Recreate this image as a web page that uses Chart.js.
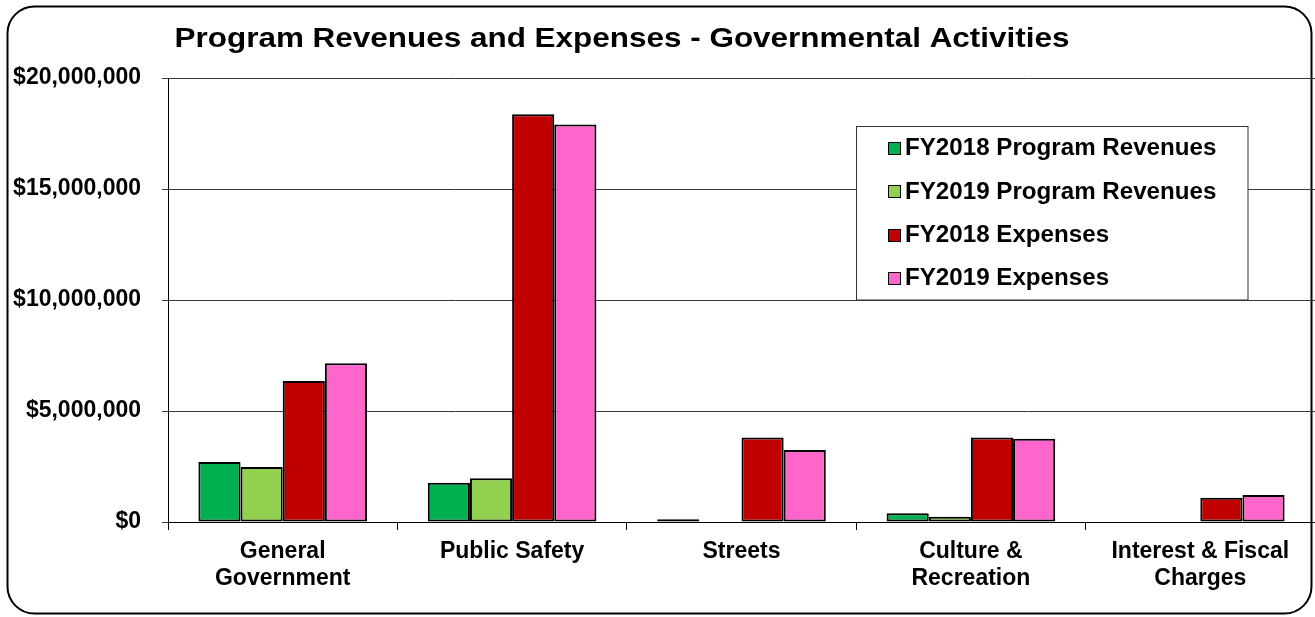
<!DOCTYPE html>
<html>
<head>
<meta charset="utf-8">
<script src="https://cdn.jsdelivr.net/npm/chart.js@4"></script>
<style>
  body { margin: 0; background: #fff; overflow: hidden; }
  #wrap { width: 1315px; height: 617px; }
</style>
</head>
<body>
<div id="wrap"><canvas id="chart" width="1315" height="617"></canvas></div>
<script>
// values, in dollars
var categories = [["General", "Government"], "Public Safety", "Streets", ["Culture &", "Recreation"], ["Interest & Fiscal", "Charges"]];
var fy2018Revenues = [2700000, 1770000, 120000, 390000, 0];
var fy2019Revenues = [2480000, 1970000, 0, 240000, 0];
var fy2018Expenses = [6350000, 18370000, 3810000, 3810000, 1090000];
var fy2019Expenses = [7150000, 17900000, 3240000, 3750000, 1220000];
var yTicks = [0, 5000000, 10000000, 15000000, 20000000];

var chartTitle = "Program Revenues and Expenses - Governmental Activities";
var fontFamily = "'Liberation Sans', Arial, sans-serif";

// text in the original is a little wider than Arial, so stretch it to fit
function wideText(ctx, text, x, y, sx) {
  ctx.save();
  ctx.translate(x, y);
  ctx.scale(sx, 1);
  ctx.fillText(text, 0, 0);
  ctx.restore();
}

// rounded frame + title
var framePlugin = {
  id: "frame",
  beforeDraw: function(chart) {
    var ctx = chart.ctx;
    ctx.save();
    ctx.fillStyle = "#fff";
    ctx.fillRect(0, 0, chart.width, chart.height);
    ctx.beginPath();
    ctx.roundRect(7.5, 6.5, 1304, 607, 27);
    ctx.lineWidth = 2;
    ctx.strokeStyle = "#000";
    ctx.stroke();
    ctx.restore();
  },
  afterDraw: function(chart) {
    var ctx = chart.ctx;
    ctx.save();
    ctx.fillStyle = "#000";
    ctx.font = "bold 27px " + fontFamily;
    ctx.textAlign = "center";
    ctx.textBaseline = "alphabetic";
    var w = ctx.measureText(chartTitle).width;
    wideText(ctx, chartTitle, 622, 47, 895 / w);
    ctx.restore();
  }
};

// boxed legend inside the plot
var legendPlugin = {
  id: "boxLegend",
  afterDatasetsDraw: function(chart) {
    var ctx = chart.ctx;
    ctx.save();
    ctx.fillStyle = "#fff";
    ctx.fillRect(856.5, 126.5, 391.5, 173.5);
    ctx.strokeStyle = "#333";
    ctx.lineWidth = 1;
    ctx.strokeRect(856.5, 126.5, 391.5, 173.5);
    ctx.font = "bold 23px " + fontFamily;
    ctx.textBaseline = "middle";
    chart.data.datasets.forEach(function(ds, i) {
      var cy = 148 + i * 43.3;
      ctx.fillStyle = ds.backgroundColor;
      ctx.fillRect(888, Math.round(cy - 6), 12, 12);
      ctx.strokeStyle = "#000";
      ctx.strokeRect(888.5, Math.round(cy - 6) + 0.5, 12, 12);
      ctx.fillStyle = "#000";
      wideText(ctx, ds.label, 905, cy + 1, 1.05);
    });
    ctx.restore();
  }
};

var ctx = document.getElementById("chart").getContext("2d");

var barStyle = { borderColor: "#000", borderWidth: 2, borderSkipped: false };

new Chart(ctx, {
  type: "bar",
  data: {
    labels: categories,
    datasets: [
      Object.assign({ label: "FY2018 Program Revenues", data: fy2018Revenues, backgroundColor: "#00B050" }, barStyle),
      Object.assign({ label: "FY2019 Program Revenues", data: fy2019Revenues, backgroundColor: "#92D050" }, barStyle),
      Object.assign({ label: "FY2018 Expenses", data: fy2018Expenses, backgroundColor: "#C00000" }, barStyle),
      Object.assign({ label: "FY2019 Expenses", data: fy2019Expenses, backgroundColor: "#FF66CC" }, barStyle)
    ]
  },
  options: {
    responsive: false,
    animation: false,
    layout: { padding: { top: 78, left: 0, right: 0, bottom: 0 } },
    plugins: {
      legend: { display: false },
      title: { display: false },
      tooltip: { enabled: false }
    },
    datasets: { bar: { categoryPercentage: 0.735, barPercentage: 1 } },
    scales: {
      x: {
        grid: { drawOnChartArea: false, drawTicks: true, tickLength: 8, color: "#000", offset: true },
        border: { color: "#000", width: 1 },
        ticks: {
          color: "#000",
          padding: 8,
          maxRotation: 0,
          autoSkip: false,
          font: { family: fontFamily, size: 23, weight: "bold", lineHeight: 1.18 }
        },
        afterFit: function(scale) { scale.height = 95; }
      },
      y: {
        min: 0,
        max: 20000000,
        afterBuildTicks: function(scale) {
          scale.ticks = yTicks.map(function(v) { return { value: v }; });
        },
        grid: { color: "#3a3a3a", lineWidth: 1, tickLength: 6 },
        border: { color: "#000", width: 1 },
        ticks: {
          color: "#000",
          padding: 21,
          font: { family: fontFamily, size: 23, weight: "bold" },
          callback: function(v) { return "$" + Number(v).toLocaleString("en-US"); }
        },
        afterFit: function(scale) { scale.width = 168; }
      }
    }
  },
  plugins: [framePlugin, legendPlugin]
});
</script>
</body>
</html>
